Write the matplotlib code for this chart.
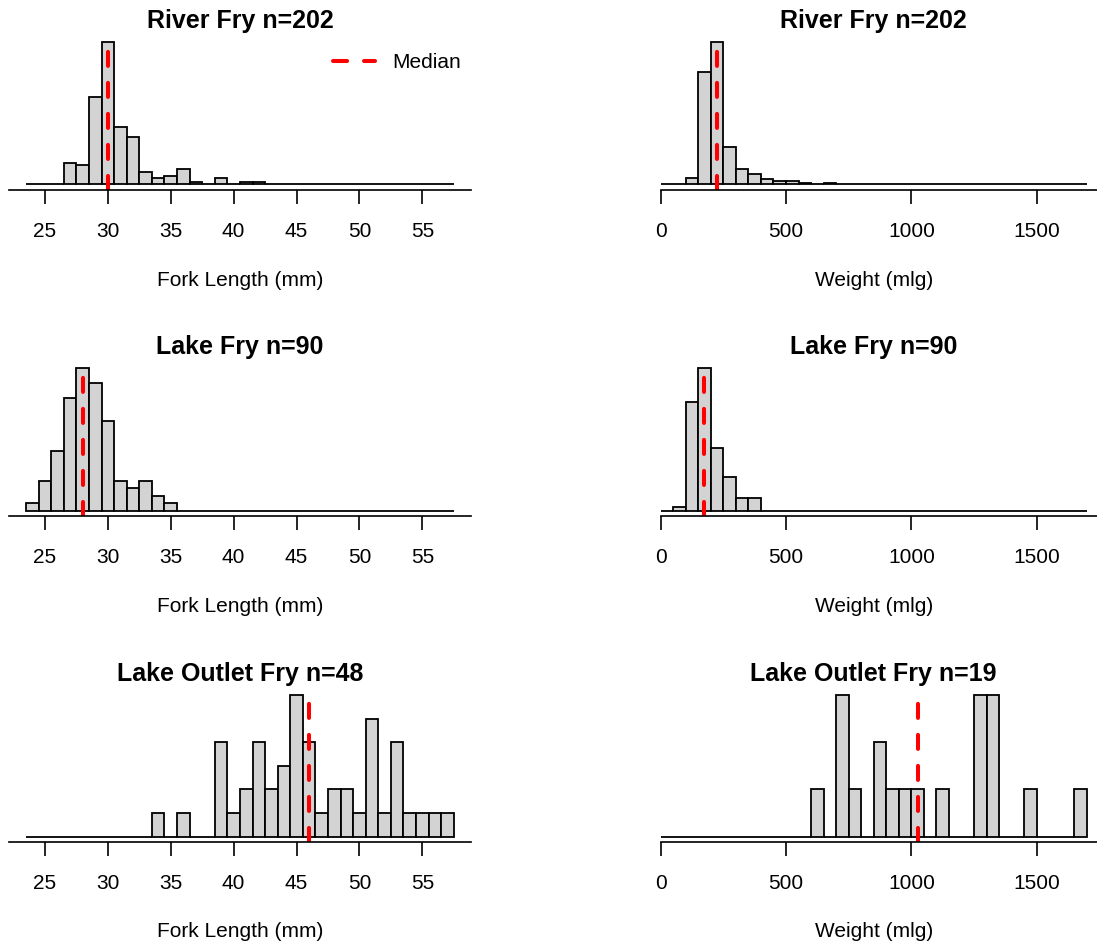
import numpy as np
import matplotlib
matplotlib.use("Agg")
import matplotlib.pyplot as plt

plt.rcParams['font.family'] = ['Liberation Sans', 'DejaVu Sans']

# Histogram counts
# Fork length bins: 1 mm wide, centres 24..57
len_centers = np.arange(24, 58)
river_len = [0, 0, 0, 10, 9, 41, 67, 27, 22, 6, 3, 4, 7, 1, 0, 3, 0, 1, 1,
             0, 0, 0, 0, 0, 0, 0, 0, 0, 0, 0, 0, 0, 0, 0]
lake_len = [1, 4, 8, 15, 19, 17, 12, 4, 3, 4, 2, 1, 0, 0, 0, 0, 0, 0, 0,
            0, 0, 0, 0, 0, 0, 0, 0, 0, 0, 0, 0, 0, 0, 0]
outlet_len = [0, 0, 0, 0, 0, 0, 0, 0, 0, 0, 1, 0, 1, 0, 0, 4, 1, 2, 4,
              2, 3, 6, 4, 1, 2, 2, 1, 5, 1, 4, 1, 1, 1, 1]

# Weight bins: 50 mlg wide, centres 25..1675
wt_centers = np.arange(25, 1700, 50)
river_wt = [0, 0, 4, 67, 85, 22, 9, 6, 3, 2, 2, 1, 0, 1, 0, 0, 0,
            0, 0, 0, 0, 0, 0, 0, 0, 0, 0, 0, 0, 0, 0, 0, 0, 0]
lake_wt = [0, 1, 26, 34, 15, 8, 3, 3, 0, 0, 0, 0, 0, 0, 0, 0, 0,
           0, 0, 0, 0, 0, 0, 0, 0, 0, 0, 0, 0, 0, 0, 0, 0, 0]
outlet_wt = [0, 0, 0, 0, 0, 0, 0, 0, 0, 0, 0, 0, 1, 0, 3, 1, 0,
             2, 1, 1, 1, 0, 1, 0, 0, 3, 3, 0, 0, 1, 0, 0, 0, 1]

len_titles = ["River Fry n=202", "Lake Fry n=90", "Lake Outlet Fry n=48"]
wt_titles = ["River Fry n=202", "Lake Fry n=90", "Lake Outlet Fry n=19"]
len_medians = [30, 28, 46]
wt_medians = [223, 173, 1025]
len_ticks = [25, 30, 35, 40, 45, 50, 55]
wt_ticks = [0, 500, 1000, 1500]

W, H = 1097, 946
fig = plt.figure(figsize=(W / 100, H / 100), dpi=100)

rows = [(36.0, 190.0), (362.6, 516.4), (689.3, 842.4)]
cols = [(9.03, 461.8), (643.65, 460.2)]


def panel(ax, centers, counts, width, med, title, ticks, xlabel, lo, hi, spine_lo):
    pad = 0.04 * (hi - lo)
    ymax = max(counts)
    ax.bar(centers, counts, width=width, color='#D3D3D3', edgecolor='black',
           linewidth=1.3)
    ax.axvline(med, color='red', lw=2.9, linestyle=(0, (3.5, 4.2)),
               dash_capstyle='round', label='Median')
    ax.set_xlim(lo - pad, hi + pad)
    ax.set_ylim(-0.04 * ymax, 1.04 * ymax)
    for s in ['top', 'right', 'left']:
        ax.spines[s].set_visible(False)
    ax.spines['bottom'].set_linewidth(1.2)
    ax.spines['bottom'].set_bounds(max(spine_lo, lo - pad), hi + pad)
    ax.set_yticks([])
    ax.set_xticks(ticks)
    ax.tick_params(axis='x', length=10, width=1.2, pad=13, labelsize=15)
    ax.set_title(title, fontsize=18, fontweight='bold', pad=6)
    ax.set_xlabel(xlabel, fontsize=15)
    ax.xaxis.set_label_coords(0.5, -90 / 154)
    ax.xaxis.label.set_verticalalignment('center')


for i, (top, bot) in enumerate(rows):
    h = bot - top
    x0, w = cols[0]
    ax = fig.add_axes([x0 / W, 1 - bot / H, w / W, h / H])
    counts = [river_len, lake_len, outlet_len][i]
    panel(ax, len_centers, counts, 1, len_medians[i], len_titles[i],
          len_ticks, "Fork Length (mm)", 23.5, 57.5, 20)
    if i == 0:
        ax.legend(loc='center left', bbox_to_anchor=(0.7015, 0.827),
                  frameon=False, borderpad=0, borderaxespad=0,
                  handlelength=2.0, handletextpad=0.85, fontsize=15)

    x0, w = cols[1]
    ax = fig.add_axes([x0 / W, 1 - bot / H, w / W, h / H])
    counts = [river_wt, lake_wt, outlet_wt][i]
    panel(ax, wt_centers, counts, 50, wt_medians[i], wt_titles[i],
          wt_ticks, "Weight (mlg)", 0, 1700, 0)

fig.savefig("out.png", dpi=100)
